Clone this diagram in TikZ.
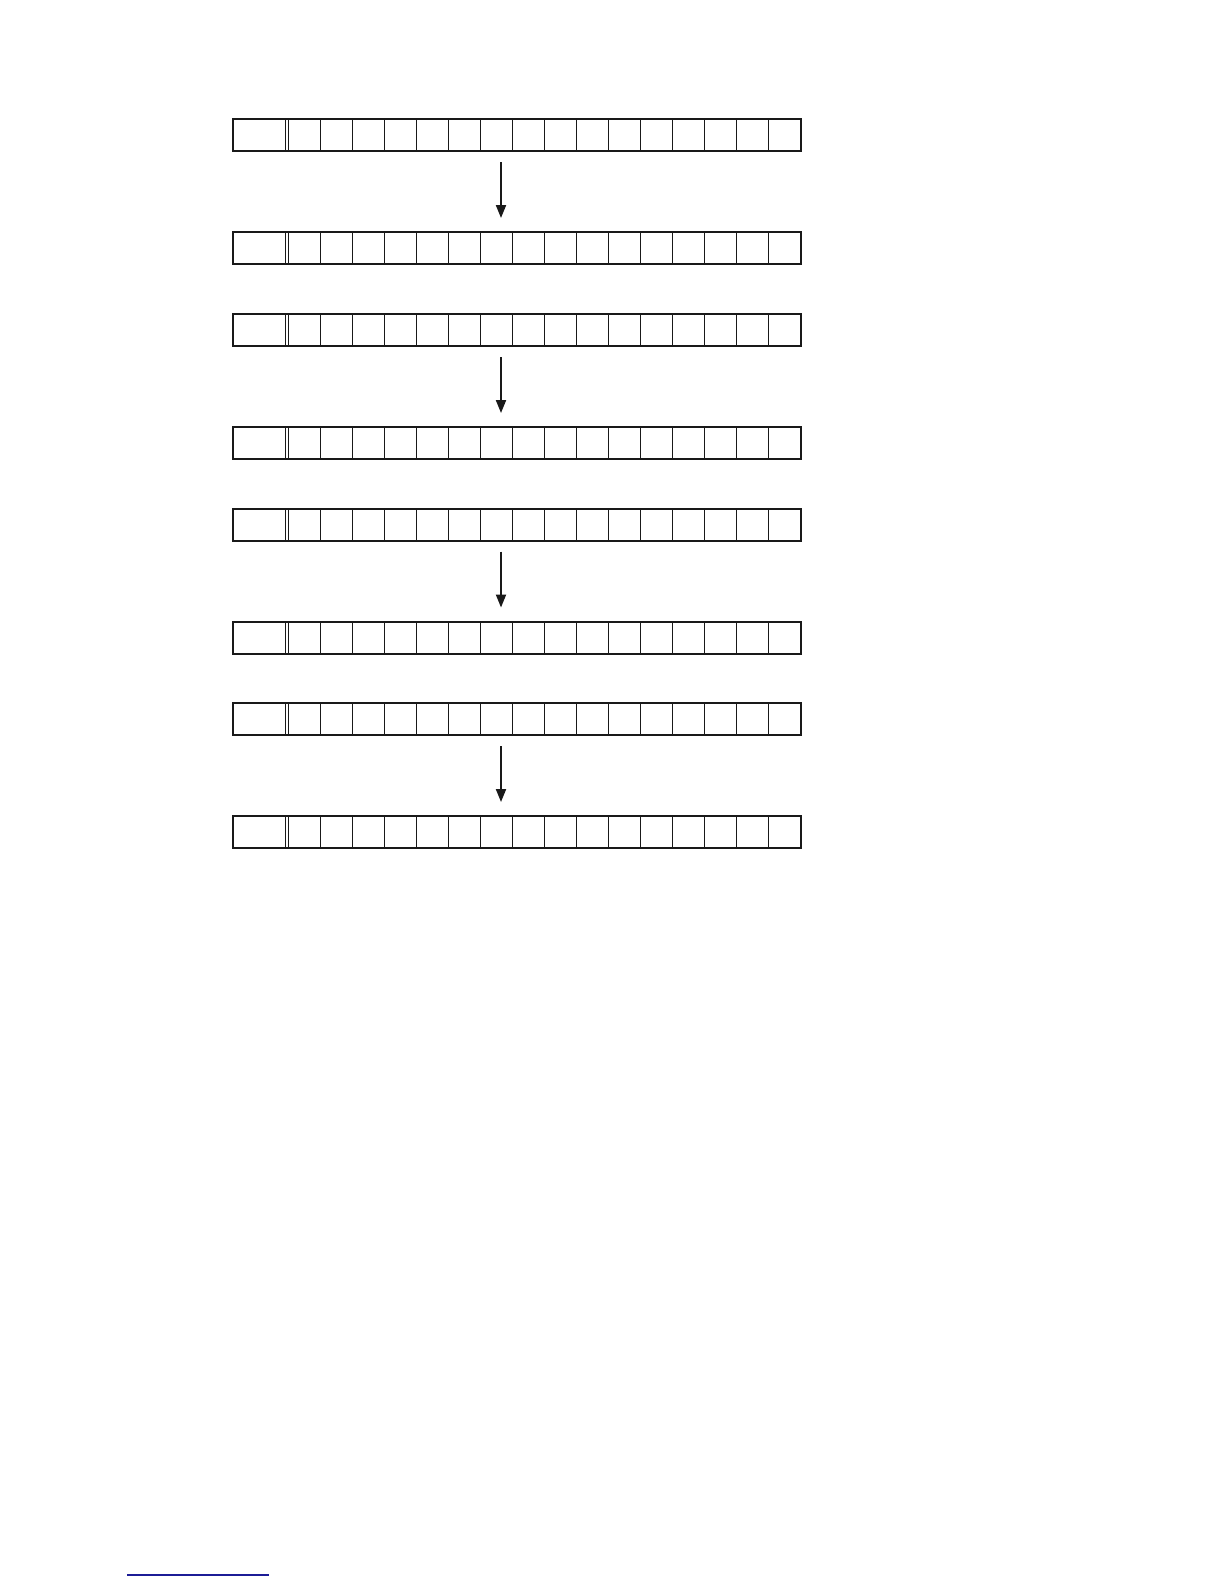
\documentclass[tikz,border=0pt]{standalone}
\usetikzlibrary{arrows.meta}
\definecolor{linkblue}{RGB}{28,28,150}
\begin{document}
\begin{tikzpicture}[x=0.5pt,y=-0.5pt,
  rowbox/.style={draw=black!90,line width=1pt,minimum width=283.75pt,minimum height=16pt,
    inner sep=0pt,outer sep=0pt,anchor=north west},
  cellline/.style={draw=black!90,line width=0.5pt},
  arr/.style={draw=black!90,line width=1pt,-{Triangle[length=6.5pt,width=5pt]}},
  bluerule/.style={draw=linkblue,line width=0.75pt}]
\useasboundingbox (0,0) rectangle (1224,1584);
\fill[white] (0,0) rectangle (1224,1584);
\foreach \t [count=\i] in {119,232,314,427,508.5,621.5,703,816}{
  \node[rowbox] (r\i) at (233,\t) {};
  \draw[cellline] (285.5,\t) -- ++(0,32);
  \draw[cellline] (288.5,\t) -- ++(0,32);
  \foreach \k in {1,...,15}{
    \draw[cellline] (288.5+32*\k,\t) -- ++(0,32);
  }
}
\foreach \a/\b in {1/2,3/4,5/6,7/8}{
  \draw[arr] ([xshift=-7.875pt,yshift=-5.5pt]r\a.south) -- ([xshift=-7.875pt,yshift=7pt]r\b.north);
}
\coordinate (bl1) at (127,1575);
\coordinate (bl2) at (269,1575);
\draw[bluerule] (bl1) -- (bl2);
\end{tikzpicture}
\end{document}
